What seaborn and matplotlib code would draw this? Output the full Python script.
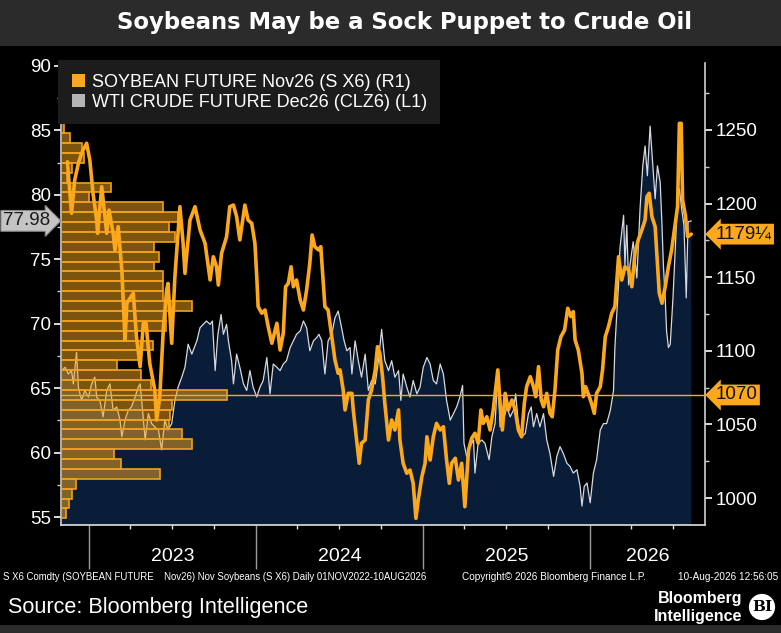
import numpy as np
import pandas as pd
import matplotlib
matplotlib.use("Agg")
import matplotlib.pyplot as plt
import matplotlib.dates as mdates
import matplotlib.transforms as mtransforms
from matplotlib.patches import Patch, Rectangle
from matplotlib.ticker import MultipleLocator, NullFormatter
import seaborn as sns

# ---------------- data ----------------
title = "Soybeans May be a Sock Puppet to Crude Oil"
start_date = "2022-11-01"
end_axis_date = "2026-09-09"
soy_label = "SOYBEAN FUTURE Nov26 (S X6) (R1)"
crude_label = "WTI CRUDE FUTURE Dec26 (CLZ6) (L1)"

# Soybean (right axis), days since 1 Nov 2022
soy_day = [14, 23, 30, 38, 45, 56, 63, 70, 78, 80, 89, 100, 105, 114, 118, 125, 133, 140, 144, 158,
           165, 173, 180, 186, 194, 205, 209, 216, 224, 231, 234, 242, 249, 260, 267, 271, 282, 293, 304, 315,
           326, 333, 340, 344, 351, 362, 369, 377, 384, 391, 402, 409, 417, 424, 428, 431, 439, 446, 453, 461,
           472, 479, 486, 491, 497, 503, 508, 515, 523, 530, 537, 544, 549, 555, 563, 568, 577, 584, 592, 599,
           606, 610, 617, 621, 628, 636, 639, 647, 652, 657, 665, 672, 679, 687, 692, 697, 703, 708, 716, 723,
           730, 738, 741, 748, 756, 763, 770, 776, 781, 789, 796, 800, 807, 814, 821, 829, 836, 843, 849, 854,
           862, 869, 876, 883, 891, 898, 905, 912, 918, 923, 931, 938, 945, 955, 960, 965, 971, 978, 986, 993,
           1000, 1007, 1013, 1018, 1026, 1033, 1038, 1044, 1050, 1055, 1062, 1069, 1074, 1080, 1086, 1093, 1101, 1108, 1115, 1120,
           1124, 1131, 1139, 1142, 1147, 1155, 1160, 1166, 1171, 1179, 1184, 1190, 1197, 1204, 1211, 1219, 1226, 1233, 1241, 1248,
           1255, 1262, 1270, 1277, 1281, 1286, 1292, 1299, 1303, 1308, 1314, 1321, 1328, 1335, 1343, 1348, 1352, 1356, 1359, 1365,
           1370, 1378]
soy_px = [1228.4, 1193.4, 1216.0, 1227.4, 1234.2, 1241.0, 1229.6, 1207.0, 1188.8, 1179.8, 1211.5, 1179.8, 1195.6, 1179.8, 1168.5, 1184.3, 1154.9, 1107.3, 1132.3, 1139.1,
          1109.6, 1089.2, 1118.7, 1118.7, 1091.5, 1073.4, 1053.0, 1068.8, 1116.4, 1141.3, 1145.8, 1105.1, 1150.3, 1197.9, 1173.0, 1152.6, 1188.8, 1197.9, 1182.1, 1173.0,
          1148.1, 1163.9, 1157.1, 1144.7, 1166.2, 1177.5, 1197.9, 1199.0, 1191.1, 1175.3, 1199.0, 1188.8, 1186.6, 1173.0, 1150.3, 1130.0, 1125.5, 1127.7, 1116.4, 1105.1,
          1118.7, 1100.5, 1111.9, 1143.5, 1145.8, 1157.1, 1143.5, 1148.1, 1134.5, 1127.7, 1141.3, 1159.4, 1178.7, 1170.7, 1168.5, 1170.7, 1130.0, 1127.7, 1109.6, 1093.7,
          1084.7, 1087.0, 1073.4, 1059.8, 1071.1, 1071.1, 1059.8, 1037.2, 1023.6, 1037.2, 1039.4, 1066.6, 1073.4, 1087.0, 1102.8, 1098.3, 1082.4, 1064.3, 1039.4, 1053.0,
          1046.2, 1059.8, 1039.4, 1023.6, 1016.8, 1019.0, 1010.0, 986.2, 998.6, 1014.5, 1023.6, 1041.6, 1025.8, 1041.6, 1050.7, 1046.2, 1048.4, 1025.8, 1010.0, 1023.6,
          1027.0, 1012.2, 1023.6, 994.1, 1032.6, 1040.6, 1044.0, 1037.2, 1059.8, 1050.7, 1055.2, 1046.2, 1059.8, 1087.0, 1064.3, 1046.2, 1071.1, 1059.8, 1066.6, 1059.8,
          1046.2, 1041.6, 1064.3, 1075.6, 1082.4, 1075.6, 1068.8, 1089.2, 1066.6, 1062.0, 1071.1, 1057.5, 1055.2, 1073.4, 1100.5, 1109.6, 1114.1, 1128.9, 1123.2, 1126.6,
          1107.3, 1100.5, 1084.7, 1068.8, 1075.6, 1068.8, 1064.3, 1057.5, 1071.1, 1075.6, 1087.0, 1109.6, 1116.4, 1125.5, 1130.0, 1163.9, 1148.1, 1157.1, 1154.9, 1143.5,
          1166.2, 1175.3, 1182.1, 1188.8, 1204.7, 1207.0, 1191.1, 1184.3, 1163.9, 1139.1, 1132.3, 1143.5, 1157.1, 1168.5, 1186.6, 1197.9, 1254.5, 1254.5, 1202.4, 1192.2,
          1177.5, 1179.25]

# WTI crude (left axis), days since 1 Nov 2022
crude_day = [1, 9, 16, 23, 27, 34, 38, 45, 52, 60, 67, 74, 78, 85, 92, 100, 107, 114, 122, 129,
             133, 140, 147, 154, 162, 169, 173, 179, 184, 191, 198, 205, 213, 220, 227, 234, 242, 249, 256, 264,
             271, 278, 286, 297, 304, 311, 318, 326, 331, 337, 343, 350, 355, 362, 366, 373, 377, 384, 391, 399,
             406, 413, 420, 428, 435, 442, 450, 457, 464, 472, 479, 486, 493, 501, 508, 515, 523, 530, 537, 544,
             552, 559, 564, 570, 577, 584, 592, 599, 606, 612, 619, 625, 632, 636, 643, 650, 657, 665, 672, 679,
             687, 694, 701, 708, 716, 723, 730, 738, 743, 748, 756, 763, 770, 778, 785, 792, 800, 807, 814, 821,
             829, 836, 843, 851, 858, 865, 872, 878, 881, 887, 894, 902, 905, 912, 920, 927, 936, 942, 949, 955,
             960, 967, 975, 982, 989, 994, 1000, 1007, 1015, 1022, 1028, 1033, 1040, 1047, 1055, 1062, 1069, 1077, 1084, 1091,
             1098, 1106, 1113, 1120, 1128, 1135, 1139, 1144, 1150, 1157, 1164, 1171, 1179, 1186, 1193, 1201, 1208, 1211, 1215, 1219,
             1222, 1226, 1230, 1233, 1237, 1241, 1244, 1251, 1259, 1266, 1272, 1277, 1282, 1288, 1294, 1299, 1304, 1310, 1314, 1317,
             1321, 1324, 1328, 1332, 1338, 1343, 1348, 1352, 1357, 1362, 1367, 1371, 1378]
crude_px = [66.36, 66.62, 66.10, 66.36, 65.33, 67.77, 65.08, 64.05, 64.82, 64.31, 65.33, 65.85, 64.31, 64.05, 62.77, 64.82, 65.33, 63.28, 63.54, 62.52,
            61.23, 62.52, 63.28, 63.54, 64.31, 65.08, 65.33, 63.02, 60.98, 63.02, 62.25, 62.00, 61.75, 60.21, 62.52, 61.75, 62.25, 64.05, 65.08, 65.85,
            66.62, 68.41, 67.64, 68.67, 69.69, 69.95, 70.21, 69.95, 70.21, 66.36, 69.18, 70.72, 69.18, 69.95, 68.67, 67.13, 65.33, 67.64, 66.62, 65.33,
            64.82, 66.36, 65.08, 64.31, 65.08, 65.59, 67.38, 64.56, 66.87, 66.62, 66.36, 66.87, 67.13, 68.15, 68.67, 69.18, 69.44, 70.21, 69.69, 67.90,
            68.67, 68.92, 69.18, 68.67, 66.10, 68.67, 69.18, 70.46, 70.98, 69.95, 68.67, 67.90, 68.15, 66.10, 68.67, 67.13, 65.85, 67.64, 64.82, 65.59,
            65.33, 67.13, 69.56, 67.13, 66.36, 67.13, 65.85, 66.36, 64.05, 66.10, 65.08, 64.31, 65.59, 64.56, 65.08, 66.62, 67.38, 66.87, 65.59, 65.33,
            66.87, 66.10, 64.05, 62.52, 63.02, 63.54, 64.31, 65.21, 60.72, 59.69, 60.46, 60.98, 58.41, 60.72, 60.98, 60.72, 59.44, 61.23, 62.25, 66.10,
            62.00, 62.52, 63.54, 62.77, 63.28, 64.56, 62.25, 61.23, 61.48, 63.02, 63.54, 62.00, 63.02, 62.00, 63.02, 60.98, 59.95, 58.15, 59.69, 60.46,
            59.95, 59.18, 58.92, 58.41, 58.67, 57.38, 55.85, 57.38, 57.64, 56.10, 58.41, 59.44, 61.75, 62.25, 62.25, 63.28, 64.82, 68.15, 70.72, 73.02,
            75.85, 77.13, 78.41, 74.56, 77.64, 73.02, 74.56, 76.36, 73.54, 78.92, 82.25, 83.79, 81.48, 85.33, 82.25, 79.69, 82.25, 80.98, 77.64, 74.56,
            72.00, 69.44, 68.15, 68.41, 72.00, 75.85, 79.69, 80.46, 78.92, 77.64, 72.00, 77.90, 77.98]

# Soybean price-distribution profile (40 bins, low price -> high price)
profile_counts = [5, 8, 11, 15, 99, 60, 53, 131, 121, 108,
                  109, 111, 166, 90, 80, 56, 78, 92, 76, 105,
                  105, 131, 102, 102, 102, 93, 98, 93, 114, 108,
                  117, 102, 28, 50, 6, 11, 23, 21, 9, 3]

crude_ylim = (54.38, 90.23)
soy_ylim = (981.66, 1295.5)
crude_ticks = [55, 60, 65, 70, 75, 80, 85, 90]
soy_ticks = [1000, 1050, 1100, 1150, 1200, 1250]
year_labels = [2023, 2024, 2025, 2026]
poc_level = 1070
last_crude = "77.98"
last_soy = "1179\u00bc"

# ---------------- styling ----------------
sns.set_theme(style="dark")
plt.rcParams["font.family"] = ["Liberation Sans Narrow", "Liberation Sans", "DejaVu Sans"]
ORANGE = "#fba81c"
ORANGE_EDGE = "#f0a020"
NAVY = "#0a1d38"
CRUDE_LINE = "#d6d9de"

W, H = 781, 633
fig = plt.figure(figsize=(W / 100, H / 100), dpi=100, facecolor="black")
fig.patches.append(Rectangle((0, 1 - 46 / H), 1, 46 / H, transform=fig.transFigure,
                             facecolor="#2b2b2b", edgecolor="none", zorder=0))
fig.patches.append(Rectangle((0, 0), 1, 8 / H, transform=fig.transFigure,
                             facecolor="#2b2b2b", edgecolor="none", zorder=0))
fig.text(404.5 / W, 1 - 22 / H, title, ha="center", va="center", color="white",
         fontsize=16.4, fontweight="bold", family=["DejaVu Sans"])

ax = fig.add_axes([61 / W, 1 - 525 / H, 644 / W, 462 / H])
ax.set_facecolor("black")

t0 = pd.Timestamp(start_date)
soy_dates = t0 + pd.to_timedelta(soy_day, unit="D")
crude_dates = t0 + pd.to_timedelta(crude_day, unit="D")

# crude area + line (left axis)
ax.fill_between(crude_dates, crude_px, 0, color=NAVY, lw=0, zorder=1)
sns.lineplot(x=crude_dates, y=crude_px, ax=ax, color=CRUDE_LINE, lw=0.9, zorder=2, legend=False)
ax.set_ylim(*crude_ylim)
ax.set_xlim(t0, pd.Timestamp(end_axis_date))

ax_soy = ax.twinx()
ax_hist = ax_soy.twiny()
ax.set_zorder(1)
ax_hist.set_zorder(2)
ax_soy.set_zorder(3)
ax_soy.patch.set_visible(False)
ax_hist.patch.set_visible(False)

# profile histogram on soybean price scale
edges = np.linspace(min(soy_px), max(soy_px), len(profile_counts) + 1)
profile = pd.DataFrame({"price": (edges[:-1] + edges[1:]) / 2, "count": profile_counts})
sns.histplot(data=profile, y="price", weights="count", bins=list(edges), ax=ax_hist,
             color=ORANGE, edgecolor=ORANGE_EDGE, linewidth=1.2)
for p in ax_hist.patches:
    p.set_facecolor((0.98, 0.66, 0.11, 0.5))
    p.set_edgecolor(ORANGE_EDGE)
ax_hist.set_xlim(0, 644)
ax_hist.xaxis.set_visible(False)
ax_hist.set_xlabel("")
ax_hist.set_ylabel("")
for s in ax_hist.spines.values():
    s.set_visible(False)

# soybean line
sns.lineplot(x=soy_dates, y=soy_px, ax=ax_soy, color=ORANGE, lw=2.6, zorder=5, legend=False)
ax_soy.axhline(poc_level, color=ORANGE, lw=1.0, zorder=6)
ax_soy.set_ylim(*soy_ylim)
ax_soy.set_ylabel("")
ax.set_ylabel("")
ax.set_xlabel("")

# spines
for a in (ax, ax_soy):
    for s in a.spines.values():
        s.set_visible(False)
ax.spines["left"].set_visible(True)
ax.spines["left"].set_color("#d0d0d0")
ax.spines["bottom"].set_visible(True)
ax.spines["bottom"].set_color("#e0e0e0")
ax_soy.spines["right"].set_visible(True)
ax_soy.spines["right"].set_color("#d0d0d0")
for sp in (ax.spines["left"], ax.spines["bottom"], ax_soy.spines["right"]):
    sp.set_linewidth(1.2)

# y ticks
ax.set_yticks(crude_ticks)
ax.yaxis.set_minor_locator(MultipleLocator(2.5))
ax.tick_params(axis="y", which="major", left=True, direction="out", length=5, width=1.2,
               colors="white", labelsize=13.5, pad=2)
ax.tick_params(axis="y", which="minor", left=True, direction="out", length=3, width=1, colors="#cccccc")
ax_soy.set_yticks(soy_ticks)
ax_soy.yaxis.set_minor_locator(MultipleLocator(25))
ax_soy.tick_params(axis="y", which="major", right=True, direction="out", length=5, width=1.2,
                   colors="white", labelsize=13.5, pad=3)
ax_soy.tick_params(axis="y", which="minor", right=True, direction="out", length=3, width=1, colors="#cccccc")

# x ticks
ax.xaxis.set_major_locator(mdates.YearLocator())
ax.xaxis.set_major_formatter(NullFormatter())
ax.xaxis.set_minor_locator(mdates.MonthLocator(bymonth=[4, 7, 10]))
ax.xaxis.set_minor_formatter(NullFormatter())
ax.tick_params(axis="x", which="major", bottom=True, direction="out", length=32, width=1, colors="#9a9a9a")
ax.tick_params(axis="x", which="minor", bottom=True, direction="out", length=3, width=1, colors="#dddddd")
ax.grid(False)
ax_soy.grid(False)
ax_hist.grid(False)

# year labels centred in the visible part of each year
x0, x1 = ax.get_xlim()
blend = mtransforms.blended_transform_factory(ax.transData, ax.transAxes)
for yr in year_labels:
    a = max(mdates.date2num(pd.Timestamp(f"{yr}-01-01")), x0)
    b = min(mdates.date2num(pd.Timestamp(f"{yr + 1}-01-01")), x1)
    ax.text((a + b) / 2, -0.068, str(yr), transform=blend, ha="center", va="center",
            color="white", fontsize=14)

# value tags
ax.annotate(last_crude, xy=(0, float(last_crude)),
            xycoords=mtransforms.blended_transform_factory(ax.transAxes, ax.transData),
            xytext=(-8, 0), textcoords="offset points", ha="right", va="center",
            fontsize=13.5, color="#1a1a1a",
            bbox=dict(boxstyle="rarrow,pad=0.1", fc="#c4c4c4", ec="#888888", lw=0.8),
            annotation_clip=False)
soy_blend = mtransforms.blended_transform_factory(ax_soy.transAxes, ax_soy.transData)
ax_soy.annotate(last_soy, xy=(1, soy_px[-1]), xycoords=soy_blend,
                xytext=(8, 0), textcoords="offset points", ha="left", va="center",
                fontsize=13.5, color="#111111",
                bbox=dict(boxstyle="larrow,pad=0.1", fc=ORANGE, ec="none"),
                annotation_clip=False)
ax_soy.annotate(str(poc_level), xy=(1, poc_level), xycoords=soy_blend,
                xytext=(8, 0), textcoords="offset points", ha="left", va="center",
                fontsize=13.5, color="#111111",
                bbox=dict(boxstyle="larrow,pad=0.1", fc=ORANGE, ec="none"),
                annotation_clip=False)

# legend
handles = [Patch(facecolor=ORANGE, edgecolor="none", label=soy_label),
           Patch(facecolor="#b4b4b4", edgecolor="none", label=crude_label)]
leg = ax_soy.legend(handles=handles, loc="upper left", bbox_to_anchor=(0.0, 1.0),
                    frameon=True, facecolor="#1c1c1c", edgecolor="none", framealpha=1,
                    labelcolor="white", fontsize=13, handlelength=0.75, handleheight=0.75,
                    handletextpad=0.35, borderpad=0.45, labelspacing=0.15, borderaxespad=0.15)
leg.get_frame().set_boxstyle("square")
leg.set_zorder(20)

# footer
fy = 1 - 577 / H
fig.text(3 / W, fy, "S X6 Comdty (SOYBEAN FUTURE    Nov26) Nov Soybeans (S X6) Daily 01NOV2022-10AUG2026",
         color="white", fontsize=6.95, va="center", ha="left")
fig.text(462 / W, fy, "Copyright\u00a9 2026 Bloomberg Finance L.P.", color="white", fontsize=7.2,
         va="center", ha="left")
fig.text(778 / W, fy, "10-Aug-2026 12:56:05", color="white", fontsize=7.2, va="center", ha="right")
fig.text(8 / W, 1 - 608 / H, "Source: Bloomberg Intelligence", color="white", fontsize=15.6,
         va="center", ha="left")
fig.text(742 / W, 1 - 599 / H, "Bloomberg", color="white", fontsize=11.5, va="center", ha="right",
         fontweight="bold")
fig.text(742 / W, 1 - 617 / H, "Intelligence", color="white", fontsize=11.5, va="center", ha="right",
         fontweight="bold")
fig.text(762 / W, 1 - 607 / H, "BI", color="black", fontsize=11, fontweight="bold", ha="center",
         va="center", family=["DejaVu Serif"],
         bbox=dict(boxstyle="circle,pad=0.2", fc="white", ec="none"))

fig.savefig("out.png", dpi=100, facecolor="black")
